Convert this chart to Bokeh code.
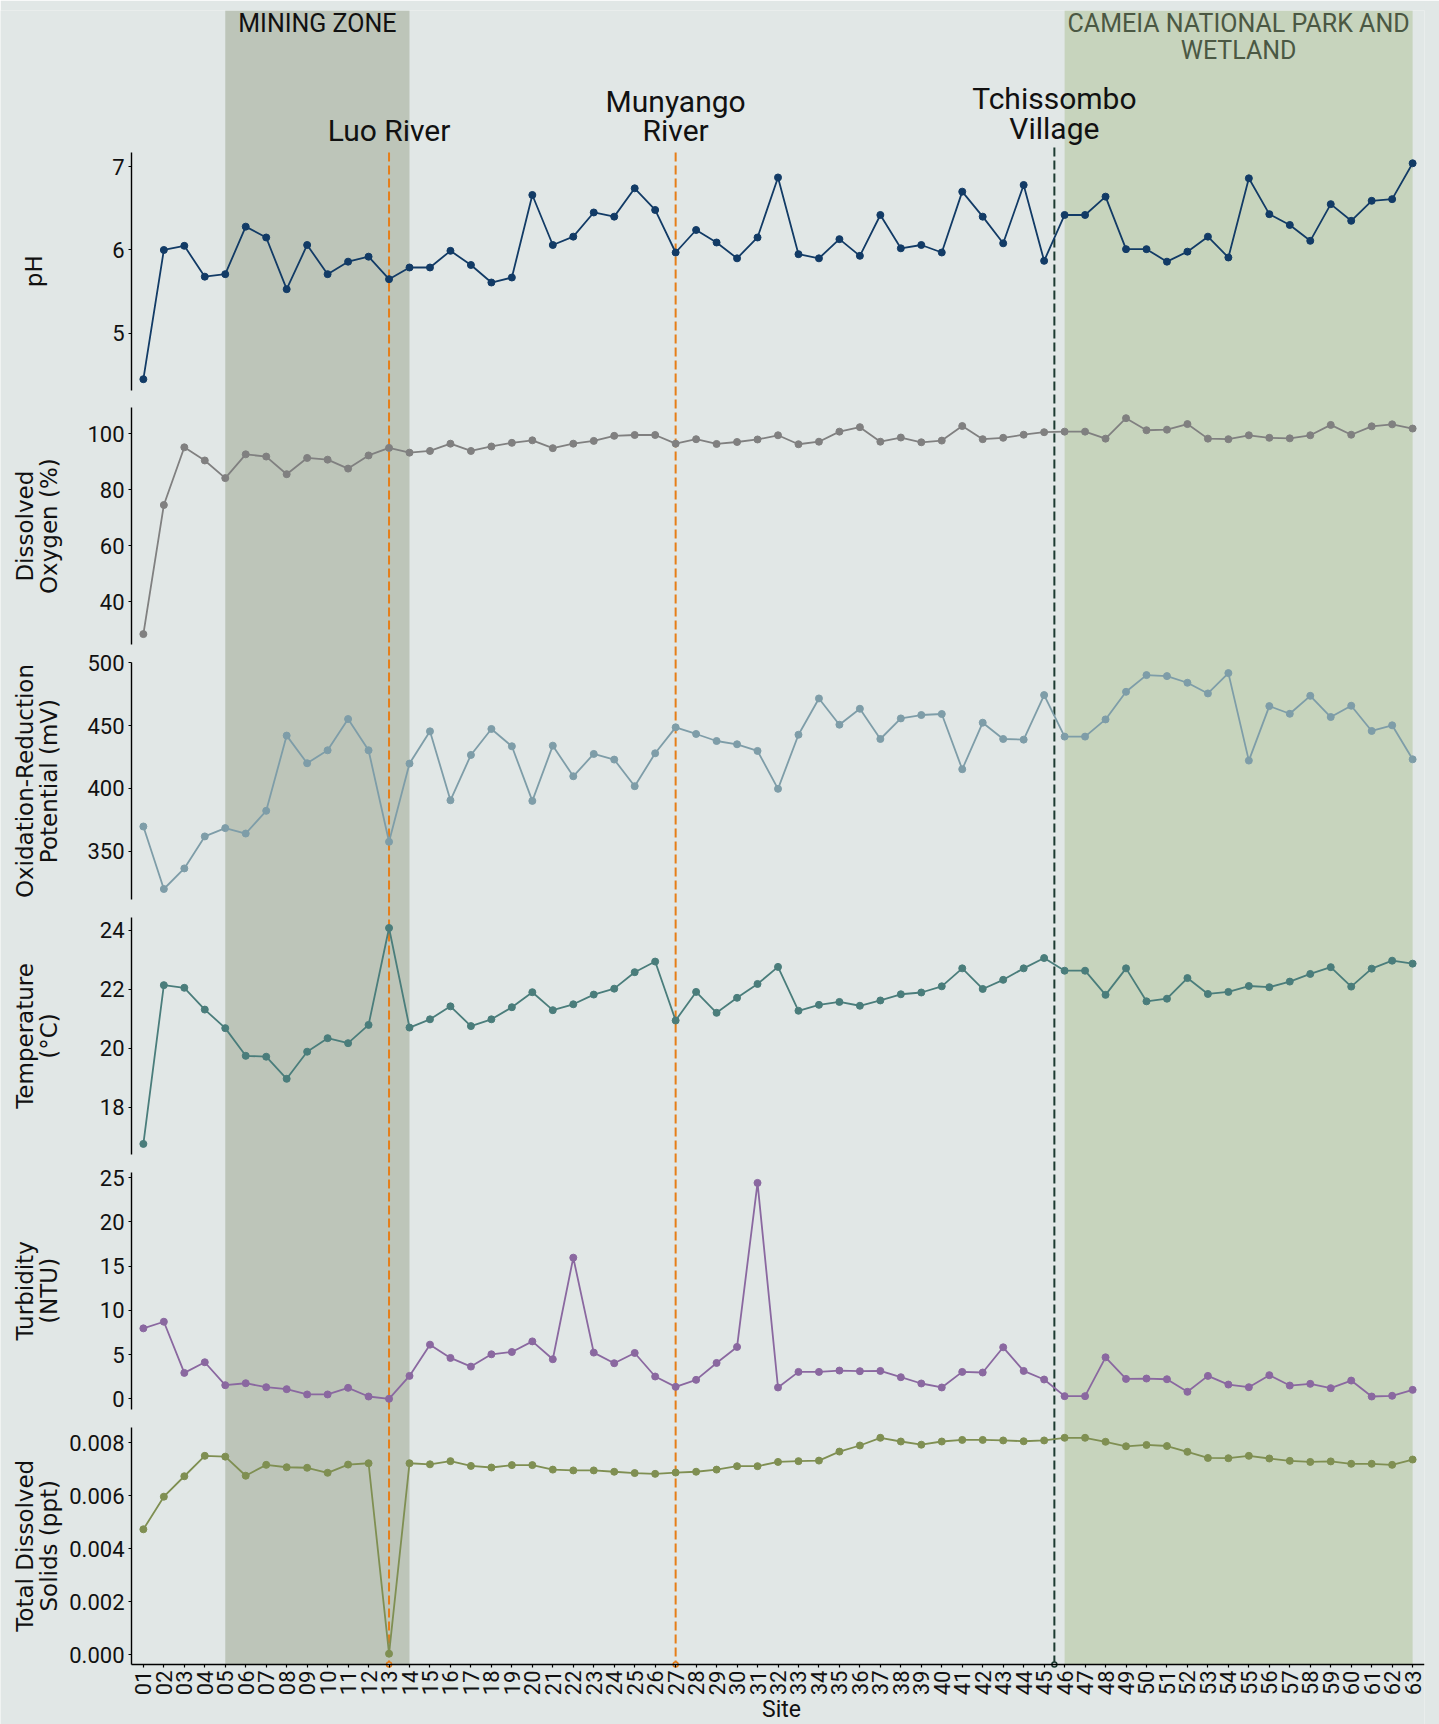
import math
from bokeh.plotting import figure
from bokeh.models import (Range1d, LinearAxis, FixedTicker, BoxAnnotation, Label,
                          NumeralTickFormatter)
from bokeh.embed import file_html
from bokeh.resources import INLINE

# ---------------- data ----------------
sites = [f"{i:02d}" for i in range(1, 64)]
site_x = list(range(1, 64))

ph = [4.45, 6.00, 6.05, 5.68, 5.71, 6.28, 6.15, 5.53, 6.06, 5.71,
      5.86, 5.92, 5.65, 5.79, 5.79, 5.99, 5.82, 5.61, 5.67, 6.66,
      6.06, 6.16, 6.45, 6.40, 6.74, 6.48, 5.97, 6.24, 6.09, 5.90,
      6.15, 6.87, 5.95, 5.90, 6.13, 5.93, 6.42, 6.02, 6.06, 5.97,
      6.70, 6.40, 6.08, 6.78, 5.87, 6.42, 6.42, 6.64, 6.01, 6.01,
      5.86, 5.98, 6.16, 5.91, 6.86, 6.43, 6.30, 6.11, 6.55, 6.35,
      6.59, 6.61, 7.04]

dissolved_oxygen = [28.4, 74.5, 95.1, 90.4, 84.1, 92.6, 91.8, 85.5, 91.3, 90.7,
                    87.5, 92.2, 94.9, 93.2, 93.8, 96.4, 93.8, 95.4, 96.7, 97.6,
                    94.8, 96.4, 97.4, 99.2, 99.5, 99.5, 96.4, 98.0, 96.3, 97.0,
                    97.9, 99.4, 96.2, 97.1, 100.7, 102.3, 97.1, 98.6, 96.9, 97.5,
                    102.7, 98.0, 98.5, 99.6, 100.5, 100.7, 100.7, 98.2, 105.5, 101.2,
                    101.4, 103.4, 98.2, 98.0, 99.4, 98.5, 98.3, 99.4, 103.1, 99.6,
                    102.6, 103.3, 101.8]

orp = [369.7, 319.9, 336.3, 361.8, 368.4, 364.1, 382.2, 442.1, 420.1, 430.4,
       455.3, 430.4, 357.5, 419.8, 445.5, 390.6, 426.7, 447.4, 433.6, 390.1,
       434.1, 409.7, 427.5, 423.0, 401.8, 428.0, 448.7, 443.4, 437.8, 435.2,
       429.9, 399.7, 442.8, 471.7, 450.8, 463.5, 439.4, 455.8, 458.5, 459.3,
       415.3, 452.4, 439.4, 438.9, 474.4, 441.3, 441.3, 455.0, 477.0, 490.3,
       489.5, 484.2, 475.7, 491.9, 422.2, 465.6, 459.5, 473.8, 456.9, 465.9,
       445.8, 450.3, 423.2]

temperature = [16.75, 22.14, 22.05, 21.31, 20.68, 19.74, 19.71, 18.96, 19.88, 20.34,
               20.17, 20.79, 24.08, 20.70, 20.98, 21.42, 20.75, 20.98, 21.39, 21.90,
               21.29, 21.49, 21.82, 22.02, 22.58, 22.94, 20.94, 21.91, 21.20, 21.71,
               22.18, 22.76, 21.27, 21.47, 21.57, 21.44, 21.62, 21.83, 21.89, 22.10,
               22.71, 22.01, 22.32, 22.71, 23.06, 22.63, 22.63, 21.81, 22.71, 21.59,
               21.68, 22.38, 21.84, 21.91, 22.11, 22.07, 22.26, 22.52, 22.75, 22.09,
               22.70, 22.97, 22.87]

turbidity = [7.96, 8.71, 2.93, 4.13, 1.54, 1.76, 1.31, 1.09, 0.49, 0.49,
             1.24, 0.26, 0.00, 2.59, 6.12, 4.62, 3.64, 5.03, 5.29, 6.49,
             4.47, 15.95, 5.22, 4.02, 5.18, 2.52, 1.35, 2.14, 4.05, 5.86,
             24.40, 1.28, 3.04, 3.04, 3.19, 3.12, 3.15, 2.44, 1.73, 1.28,
             3.04, 2.97, 5.82, 3.15, 2.18, 0.30, 0.30, 4.69, 2.25, 2.29,
             2.21, 0.79, 2.59, 1.61, 1.31, 2.67, 1.50, 1.69, 1.20, 2.06,
             0.26, 0.34, 1.01]

tds = [0.00473, 0.00596, 0.00673, 0.00750, 0.00747, 0.00675, 0.00716, 0.00707, 0.00705, 0.00686,
       0.00717, 0.00722, 0.00004, 0.00722, 0.00718, 0.00730, 0.00712, 0.00706, 0.00715, 0.00715,
       0.00698, 0.00695, 0.00695, 0.00690, 0.00685, 0.00682, 0.00687, 0.00690, 0.00698, 0.00711,
       0.00711, 0.00727, 0.00730, 0.00732, 0.00766, 0.00789, 0.00818, 0.00804, 0.00792, 0.00804,
       0.00810, 0.00810, 0.00808, 0.00805, 0.00808, 0.00818, 0.00818, 0.00803, 0.00786, 0.00791,
       0.00787, 0.00765, 0.00742, 0.00741, 0.00750, 0.00740, 0.00731, 0.00727, 0.00729, 0.00720,
       0.00720, 0.00716, 0.00736]

ph_ticks = [5, 6, 7]
do_ticks = [40, 60, 80, 100]
orp_ticks = [350, 400, 450, 500]
temp_ticks = [18, 20, 22, 24]
turb_ticks = [0, 5, 10, 15, 20, 25]
tds_ticks = [0.000, 0.002, 0.004, 0.006, 0.008]

# zones and landmarks (site positions)
mining_zone = (5, 14)
cameia_zone = (46, 63)
luo_river = 13
munyango_river = 27
tchissombo_village = 45.5

# ---------------- style / layout ----------------
BG = "#e1e7e6"
MINING_COL = "#bdc5b9"
CAMEIA_COL = "#c7d4bd"
ORANGE = "#e67e18"
DARKGREEN = "#1d3b31"
ANN_FONT = "Roboto"
TITLE_FONT = "DejaVu Sans"

FIG_W, FIG_H = 1439, 1724
FRAME_TOP, FRAME_BOT = 10, FIG_H            # page rows of the plot frame
AXIS_Y = 1664                               # page row of the x axis
PANEL_TOP0, PANEL_H, PANEL_STEP = 152, 237.5, 254.9
X_START, X_END = 0.42, 63.58                # visible data x-extent (axis bounds)
PX_LEFT, PX_RIGHT = 131, 1424               # page columns of X_START / X_END
UNIT = (X_END - X_START) / (PX_RIGHT - PX_LEFT)
FRAME_X0 = X_START - PX_LEFT * UNIT         # frame starts at page column 0


def page_x(px):
    return X_START + (px - PX_LEFT) * UNIT


p = figure(width=FIG_W, height=FIG_H, output_backend="svg", toolbar_location=None,
           x_range=Range1d(FRAME_X0, X_END), y_range=Range1d(FRAME_BOT, FRAME_TOP),
           y_axis_location=None, x_axis_location=None,
           min_border_left=0, min_border_right=FIG_W - PX_RIGHT, min_border_top=FRAME_TOP,
           min_border_bottom=0,
           background_fill_color=BG, border_fill_color=BG, outline_line_color=None)
p.grid.visible = False


def style_axis(ax):
    ax.axis_line_color = "black"
    ax.axis_line_width = 1.4
    ax.major_tick_line_color = "black"
    ax.major_tick_line_width = 1.2
    ax.major_tick_out = 3
    ax.major_tick_in = 0
    ax.minor_tick_line_color = None
    ax.major_label_text_font = ANN_FONT
    ax.major_label_text_font_size = "22px"
    ax.major_label_text_color = "#111111"
    ax.major_label_standoff = 4


# x axis (drawn at the bottom of the last panel)
xa = LinearAxis(fixed_location=AXIS_Y, bounds=(X_START, X_END),
                ticker=FixedTicker(ticks=site_x))
style_axis(xa)
xa.major_label_overrides = {x: s for x, s in zip(site_x, sites)}
xa.major_label_orientation = math.pi / 2
xa.major_label_standoff = 3
p.add_layout(xa, "below")

# zones
p.add_layout(BoxAnnotation(left=mining_zone[0], right=mining_zone[1], top=FRAME_TOP,
                           bottom=AXIS_Y, fill_color=MINING_COL, fill_alpha=1,
                           line_color=None, level="underlay"))
p.add_layout(BoxAnnotation(left=cameia_zone[0], right=cameia_zone[1], top=FRAME_TOP,
                           bottom=AXIS_Y, fill_color=CAMEIA_COL, fill_alpha=1,
                           line_color=None, level="underlay"))

# landmark lines
rivers = [luo_river, munyango_river]
p.segment(x0=rivers, y0=[PANEL_TOP0] * 2, x1=rivers, y1=[AXIS_Y] * 2,
          line_color=ORANGE, line_width=2, line_dash="9 4")
p.segment(x0=[tchissombo_village], y0=[PANEL_TOP0 - 5], x1=[tchissombo_village], y1=[AXIS_Y],
          line_color=DARKGREEN, line_width=2, line_dash="9 4")
p.scatter(x=rivers, y=[AXIS_Y] * 2, size=5, marker="circle", fill_color=BG,
          line_color=ORANGE, line_width=1.5)
p.scatter(x=[tchissombo_village], y=[AXIS_Y], size=5, marker="circle", fill_color=BG,
          line_color=DARKGREEN, line_width=1.5)

panels = [
    ("ph", ph, "#123b66", ph_ticks, None, ["pH"]),
    ("do", dissolved_oxygen, "#808080", do_ticks, None, ["Dissolved", "Oxygen (%)"]),
    ("orp", orp, "#7e9da8", orp_ticks, None, ["Oxidation-Reduction", "Potential (mV)"]),
    ("temp", temperature, "#4a7d7b", temp_ticks, None, ["Temperature", "(°C)"]),
    ("turb", turbidity, "#8a68a0", turb_ticks, None, ["Turbidity", "(NTU)"]),
    ("tds", tds, "#7f8f52", tds_ticks, "0.000", ["Total Dissolved", "Solids (ppt)"]),
]

for k, (name, vals, color, ticks, fmt, title_lines) in enumerate(panels):
    lo_d, hi_d = min(vals), max(vals)
    pad = 0.05 * (hi_d - lo_d)
    lo, hi = lo_d - pad, hi_d + pad
    top = PANEL_TOP0 + k * PANEL_STEP
    bottom = top + PANEL_H
    s = (hi - lo) / PANEL_H
    p.extra_y_ranges[name] = Range1d(lo - (FRAME_BOT - bottom) * s, hi + (top - FRAME_TOP) * s)

    p.line(site_x, vals, y_range_name=name, line_color=color, line_width=1.8)
    p.scatter(site_x, vals, y_range_name=name, size=7, marker="circle",
              fill_color=color, line_color=color)

    ax = LinearAxis(y_range_name=name, fixed_location=X_START, bounds=(lo, hi),
                    ticker=FixedTicker(ticks=ticks))
    if fmt:
        ax.formatter = NumeralTickFormatter(format=fmt)
    style_axis(ax)
    p.add_layout(ax, "left")

    yc = top + PANEL_H / 2
    xs = [33] if len(title_lines) == 1 else [24, 48.5]
    for xpos, t in zip(xs, title_lines):
        p.add_layout(Label(x=page_x(xpos), y=yc, text=t, angle=math.pi / 2,
                           text_align="center", text_baseline="middle",
                           text_font=TITLE_FONT, text_font_size="23px", text_color="#111111"))


# header annotations
def ann(x, y, t, size, color="#111111", baseline="alphabetic"):
    p.add_layout(Label(x=x, y=y, text=t, text_align="center", text_baseline=baseline,
                       text_font=ANN_FONT, text_font_size=size, text_color=color))


ann(sum(mining_zone) / 2, 23, "MINING ZONE", "25px")
ann(sum(cameia_zone) / 2, 23, "CAMEIA NATIONAL PARK AND", "25px", "#4b5843")
ann(sum(cameia_zone) / 2, 50, "WETLAND", "25px", "#4b5843")
ann(luo_river, 130, "Luo River", "30px")
ann(munyango_river, 100.5, "Munyango", "30px")
ann(munyango_river, 130, "River", "30px")
ann(tchissombo_village, 98, "Tchissombo", "30px")
ann(tchissombo_village, 127.5, "Village", "30px")
ann(page_x(781), 1709, "Site", "23px", baseline="middle")

open("out.html", "w").write(file_html(p, INLINE))
